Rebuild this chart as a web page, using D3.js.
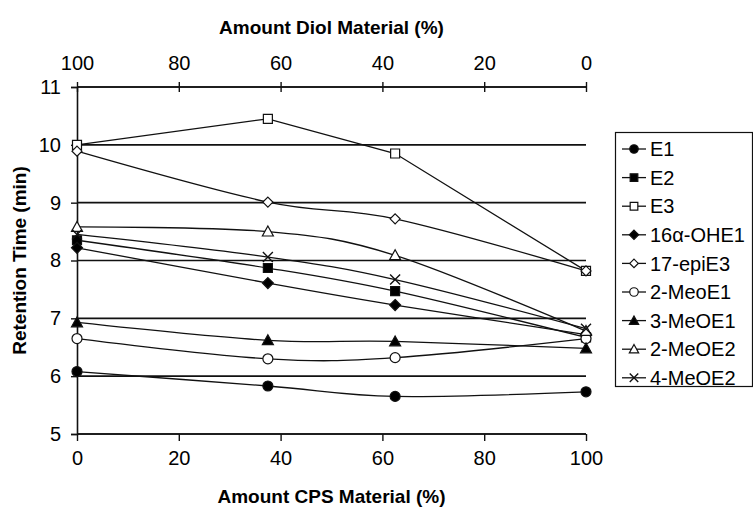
<!DOCTYPE html>
<html>
<head>
<meta charset="utf-8">
<script src="https://cdn.jsdelivr.net/npm/d3@7"></script>
<style>
  body { margin: 0; background: #fff; }
  text { font-family: "Liberation Sans", Arial, sans-serif; fill: #000; }
</style>
</head>
<body>
<svg id="chart"></svg>
<script>
const width = 753;
const height = 508;
const margin = { top: 87, right: 167, bottom: 74, left: 77 };

// data
const cpsAmount = [0, 37.5, 62.5, 100];
const seriesNames = ["E1", "E2", "E3", "16α-OHE1", "17-epiE3", "2-MeoE1", "3-MeOE1", "2-MeOE2", "4-MeOE2"];
const E1 = [6.08, 5.83, 5.65, 5.73];
const E2 = [8.35, 7.87, 7.47, 6.67];
const E3 = [10.0, 10.45, 9.85, 7.82];
const OHE1 = [8.22, 7.61, 7.23, 6.72];
const epiE3 = [9.89, 9.01, 8.72, 7.82];
const MeoE1_2 = [6.65, 6.30, 6.32, 6.65];
const MeOE1_3 = [6.93, 6.62, 6.60, 6.48];
const MeOE2_2 = [8.58, 8.50, 8.09, 6.78];
const MeOE2_4 = [8.45, 8.06, 7.67, 6.82];
const seriesValues = [E1, E2, E3, OHE1, epiE3, MeoE1_2, MeOE1_3, MeOE2_2, MeOE2_4];
const xTicks = [0, 20, 40, 60, 80, 100];
const yTicks = [5, 6, 7, 8, 9, 10, 11];

// marker styles per series
const markers = [
  { type: "circle", size: 5, fill: "#000" },
  { type: "square", size: 4.5, fill: "#000" },
  { type: "square", size: 4.5, fill: "#fff" },
  { type: "diamond", size: 5.5, fill: "#000" },
  { type: "diamond", size: 5, fill: "#fff" },
  { type: "circle", size: 5, fill: "#fff" },
  { type: "triangle", size: 5.5, fill: "#000" },
  { type: "triangle", size: 5.5, fill: "#fff" },
  { type: "x", size: 5, fill: "none" }
];
const smooth = [true, true, false, true, true, true, true, true, true];

const svg = d3.select("svg#chart")
  .attr("width", width)
  .attr("height", height)
  .style("background-color", "#fff");

const plotW = width - margin.left - margin.right;
const plotH = height - margin.top - margin.bottom;

const xScale = d3.scaleLinear().domain([0, 100]).range([margin.left, margin.left + plotW]);
const xTop = d3.scaleLinear().domain([100, 0]).range([margin.left, margin.left + plotW]);
const yScale = d3.scaleLinear().domain([5, 11]).range([margin.top + plotH, margin.top]);

// horizontal gridlines
svg.append("g")
  .selectAll("line")
  .data(yTicks)
  .enter()
  .append("line")
  .attr("x1", margin.left)
  .attr("x2", margin.left + plotW)
  .attr("y1", d => yScale(d))
  .attr("y2", d => yScale(d))
  .style("stroke", "#111")
  .style("stroke-width", 1.6);

// bottom axis
const xAxis = d3.axisBottom(xScale).tickValues(xTicks).tickSize(7).tickPadding(10);
const gx = svg.append("g")
  .attr("transform", "translate(0," + (margin.top + plotH) + ")")
  .call(xAxis);

// top axis
const xAxisTop = d3.axisTop(xTop).tickValues(xTicks).tickSize(5).tickPadding(12);
const gxt = svg.append("g")
  .attr("transform", "translate(0," + margin.top + ")")
  .call(xAxisTop);
gxt.selectAll(".tick line").attr("y2", 5).attr("y1", -5);

// left axis
const yAxis = d3.axisLeft(yScale).tickValues(yTicks).tickFormat(d3.format("d")).tickSize(6).tickPadding(10);
const gy = svg.append("g")
  .attr("transform", "translate(" + margin.left + ",0)")
  .call(yAxis);

[gx, gxt, gy].forEach(g => {
  g.select(".domain").style("stroke", "#111").style("stroke-width", 1.6);
  g.selectAll(".tick line").style("stroke", "#111").style("stroke-width", 1.4);
  g.selectAll(".tick text").style("font-size", "20px").style("font-family", "Liberation Sans, Arial, sans-serif");
});
gx.select(".domain").attr("d", "M" + margin.left + ",0H" + (margin.left + plotW));
gxt.select(".domain").attr("d", "M" + margin.left + ",0H" + (margin.left + plotW));

// axis titles
svg.append("text")
  .attr("x", margin.left + plotW / 2)
  .attr("y", 34)
  .attr("text-anchor", "middle")
  .style("font-weight", "bold")
  .style("font-size", "19px")
  .text("Amount Diol Material (%)");

svg.append("text")
  .attr("x", margin.left + plotW / 2)
  .attr("y", 503)
  .attr("text-anchor", "middle")
  .style("font-weight", "bold")
  .style("font-size", "19px")
  .text("Amount CPS Material (%)");

svg.append("text")
  .attr("transform", "translate(26," + (margin.top + plotH / 2) + ") rotate(-90)")
  .attr("text-anchor", "middle")
  .style("font-weight", "bold")
  .style("font-size", "19px")
  .text("Retention Time (min)");

// lines
const smoothLine = d3.line()
  .x((d, i) => xScale(cpsAmount[i]))
  .y(d => yScale(d))
  .curve(d3.curveCatmullRom.alpha(0));
const straightLine = d3.line()
  .x((d, i) => xScale(cpsAmount[i]))
  .y(d => yScale(d));

svg.append("g")
  .selectAll("path")
  .data(seriesValues)
  .enter()
  .append("path")
  .attr("d", (d, i) => smooth[i] ? smoothLine(d) : straightLine(d))
  .style("fill", "none")
  .style("stroke", "#111")
  .style("stroke-width", 1.3);

function markerPath(type, s) {
  if (type === "circle") return d3.symbol().type(d3.symbolCircle).size(Math.PI * s * s)();
  if (type === "square") return "M" + (-s) + "," + (-s) + "H" + s + "V" + s + "H" + (-s) + "Z";
  if (type === "diamond") return "M0," + (-s) + "L" + s + ",0L0," + s + "L" + (-s) + ",0Z";
  if (type === "triangle") return "M0," + (-s) + "L" + s + "," + (s * 0.8) + "H" + (-s) + "Z";
  return "M" + (-s) + "," + (-s) + "L" + s + "," + s + "M" + (-s) + "," + s + "L" + s + "," + (-s);
}

function drawMarker(g, m, x, y) {
  g.append("path")
    .attr("d", markerPath(m.type, m.size))
    .attr("transform", "translate(" + x + "," + y + ")")
    .style("fill", m.fill)
    .style("stroke", "#111")
    .style("stroke-width", m.type === "x" ? 1.4 : 1.2);
}

const markerLayer = svg.append("g");
seriesValues.forEach((vals, si) => {
  vals.forEach((v, i) => drawMarker(markerLayer, markers[si], xScale(cpsAmount[i]), yScale(v)));
});

// legend
const legend = svg.append("g");
legend.append("rect")
  .attr("x", 615.5)
  .attr("y", 132.5)
  .attr("width", 137)
  .attr("height", 254)
  .style("fill", "#fff")
  .style("stroke", "#111")
  .style("stroke-width", 1.2);

seriesNames.forEach((name, i) => {
  const y = 149 + i * 28.6;
  legend.append("line")
    .attr("x1", 622).attr("x2", 646)
    .attr("y1", y).attr("y2", y)
    .style("stroke", "#111")
    .style("stroke-width", 1.3);
  const m = Object.assign({}, markers[i]);
  m.size = m.size * 0.85;
  drawMarker(legend, m, 634, y);
  legend.append("text")
    .attr("x", 650)
    .attr("y", y)
    .attr("dy", "0.36em")
    .style("font-size", "20px")
    .text(name);
});
</script>
</body>
</html>
